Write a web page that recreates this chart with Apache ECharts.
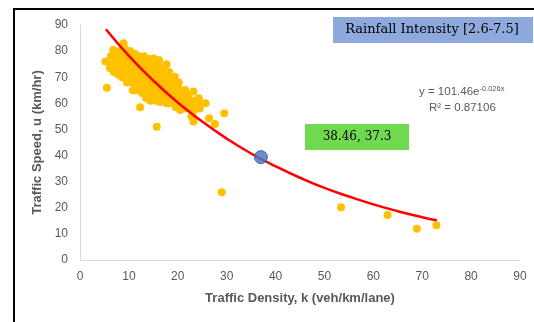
<!DOCTYPE html>
<html><head><meta charset="utf-8">
<script src="https://cdn.jsdelivr.net/npm/echarts@6/dist/echarts.min.js"></script>
<style>html,body{margin:0;padding:0;background:#fff}#c{width:534px;height:322px}</style>
</head><body><div id="c"></div>
<script>
// Observed (density k, speed u) pairs — main cluster
const clusterPoints = [
[5.2,76],[5.5,66],[6.1,73.5],[6.3,78],[6.8,80.4],[6.5,75],[6.9,72],
[7.2,79],[7.5,77],[7.3,75],[7.6,73],[7.8,71],[8.9,83],
[8.1,80],[8.3,78],[8.2,76],[8.5,74],[8.4,72],[8.6,70],
[9.1,81],[9.3,79],[9.0,77],[9.4,75],[9.2,73],[9.5,71],[9.6,68],
[10.2,80],[10.1,78],[10.4,76],[10.3,74],[10.6,72],[10.5,70],[10.7,68],[10.8,65],
[11.2,79],[11.1,77],[11.5,75],[11.3,73],[11.6,71],[11.4,69],[11.7,67],[11.6,65],
[12.1,78],[12.3,76],[12.2,74],[12.5,72],[12.4,70],[12.6,68],[12.3,66],[12.7,64],[12.3,58.5],
[13.1,78],[13.3,76],[13.2,74],[13.5,72],[13.4,70],[13.6,68],[13.3,66],[13.7,64],[13.5,62],
[14.2,77],[14.1,75],[14.4,73],[14.3,71],[14.6,69],[14.5,67],[14.2,65],[14.7,63],[14.4,61],
[15.1,77.2],[15.3,75],[15.2,73],[15.5,71],[15.4,69],[15.6,67],[15.3,65],[15.7,63],[15.5,61],[15.7,51],
[16.2,76.5],[16.1,74],[16.4,72],[16.3,70],[16.6,68],[16.5,66],[16.2,64],[16.7,62],[16.4,60.5],
[17.7,75],[17.1,73],[17.3,71],[17.2,69],[17.5,67],[17.4,65],[17.6,63],[17.3,61],[17.7,60],
[18.2,72],[18.1,70],[18.4,68],[18.3,66],[18.6,64],[18.5,62],[18.2,60],
[19.4,70.2],[19.1,68],[19.3,66],[19.2,64],[19.5,62],[19.4,60],[19.6,58.5],
[20.2,68],[20.1,66],[20.4,64],[20.3,62],[20.6,60],[20.5,57.4],
[21.5,65.1],[21.1,64],[21.3,62],[21.2,60],[21.5,58],
[21.8,63.8],[22.2,62],[22.1,60],[22.4,58],[22.8,55],
[23.2,64.5],[23.1,61],[23.3,59],[23.2,57],[23.9,58.5],[23.2,53],
[24.3,61.9],[24.2,60],[24.5,58],[25.7,60],[26.4,54.3],[27.6,52.1],[29.5,56.2]
];
// Isolated observations
const outlierPoints = [[29.0,25.9],[53.4,20.2],[62.9,17.2],[68.9,12.0],[72.9,13.3]];
// Exponential trendline y = 101.46 e^(-0.026x), values read at these k
const trendK = [5.3,10,15,20,25,30,35,40,45,50,55,60,65,70,73];
const trendU = [88.4,78.2,68.7,60.3,53.0,46.5,40.8,35.9,31.5,27.6,24.3,21.3,18.7,16.4,15.2];
// Highlighted point
const highlightPoint = [[37.0,39.4]];
const xTicks = [0,10,20,30,40,50,60,70,80,90];
const yTicks = [0,10,20,30,40,50,60,70,80,90];
const titleText = 'Rainfall Intensity [2.6-7.5]';
const markerLabel = '38.46, 37.3';
const xTitle = 'Traffic Density, k (veh/km/lane)';
const yTitle = 'Traffic Speed, u (km/hr)';

const chart = echarts.init(document.getElementById('c'));
const gray = '#595959';
chart.setOption({
  animation: false,
  grid: {left: 80, right: 14, top: 25, bottom: 62},
  xAxis: {
    type: 'value', min: xTicks[0], max: xTicks[xTicks.length-1], interval: 10,
    axisLine: {lineStyle: {color: '#d9d9d9'}}, axisTick: {show: false}, splitLine: {show: false},
    axisLabel: {color: gray, fontSize: 12, fontFamily: 'Liberation Sans', margin: 11},
    name: xTitle, nameLocation: 'middle', nameGap: 32,
    nameTextStyle: {color: gray, fontSize: 13, fontWeight: 'bold', fontFamily: 'Liberation Sans'}
  },
  yAxis: {
    type: 'value', min: yTicks[0], max: yTicks[yTicks.length-1], interval: 10,
    axisLine: {show: true, lineStyle: {color: '#d9d9d9'}}, axisTick: {show: false}, splitLine: {show: false},
    axisLabel: {color: gray, fontSize: 12, fontFamily: 'Liberation Sans', margin: 12},
    name: yTitle, nameLocation: 'middle', nameGap: 27,
    nameTextStyle: {color: gray, fontSize: 13, fontWeight: 'bold', fontFamily: 'Liberation Sans'}
  },
  series: [
    {type: 'scatter', data: clusterPoints.concat(outlierPoints), symbolSize: 8,
     itemStyle: {color: '#FFC000', opacity: 1}, z: 2},
    {type: 'line', data: trendK.map((k,i)=>[k,trendU[i]]), smooth: true, showSymbol: false,
     lineStyle: {color: '#FF0000', width: 2.5}, z: 3},
    {type: 'scatter', data: highlightPoint, symbolSize: 13,
     itemStyle: {color: '#4472C4', borderColor: '#2F528F', borderWidth: 1}, z: 4}
  ],
  graphic: [
    {type: 'rect', shape: {x: 14, y: 9, width: 600, height: 400}, style: {fill: 'none', stroke: '#000', lineWidth: 2}, silent: true},
    {type: 'rect', shape: {x: 333, y: 17, width: 200, height: 26}, style: {fill: '#8EA9DB'}},
    {type: 'text', x: 432, y: 30, style: {text: titleText, fill: '#000', font: '13px "DejaVu Serif"', align: 'center', verticalAlign: 'middle'}},
    {type: 'rect', shape: {x: 305, y: 124, width: 104, height: 26}, style: {fill: '#70D94F'}},
    {type: 'text', x: 357, y: 137, style: {text: markerLabel, fill: '#000', font: '12px "DejaVu Serif"', align: 'center', verticalAlign: 'middle'}},
    {type: 'text', x: 419, y: 92, style: {
      rich: {n: {fill: gray, fontSize: 11.5, fontFamily: 'Liberation Sans'}, s: {fill: gray, fontSize: 7.5, fontFamily: 'Liberation Sans', verticalAlign: 'top', padding: [0,0,6,0]}},
      text: '{n|y = 101.46e}{s|-0.026x}', verticalAlign: 'middle'}},
    {type: 'text', x: 429, y: 108, style: {
      rich: {n: {fill: gray, fontSize: 11.5, fontFamily: 'Liberation Sans'}},
      text: '{n|R² = 0.87106}', verticalAlign: 'middle'}}
  ]
});
</script></body></html>
